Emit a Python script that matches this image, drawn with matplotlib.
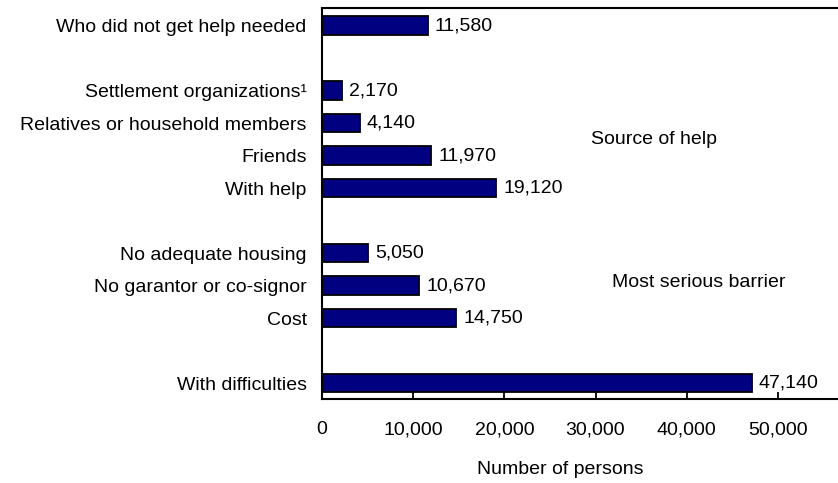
"""
Housing search difficulties: horizontal bar chart of number of persons.
"""
import matplotlib
matplotlib.use("Agg")
import matplotlib.pyplot as plt

# rows from bottom to top; None marks an empty spacer slot
labels = ["With difficulties", None, "Cost", "No garantor or co-signor",
          "No adequate housing", None, "With help", "Friends",
          "Relatives or household members", "Settlement organizations\u00b9",
          None, "Who did not get help needed"]
values = [47140, None, 14750, 10670, 5050, None, 19120, 11970, 4140, 2170,
          None, 11580]
group_notes = ["Source of help", "Most serious barrier"]
note_x = [29500, 31800]
note_y = [7.48, 3.08]
xticks = [0, 10000, 20000, 30000, 40000, 50000]

plt.rcParams["font.family"] = ["Liberation Sans", "DejaVu Sans"]
FS = 14

fig = plt.figure(figsize=(8.38, 4.83), dpi=100)
ax = fig.add_axes([322 / 838, 84 / 483, 547 / 838, 391 / 483])

pos = [i for i, v in enumerate(values) if v is not None]
vals = [values[i] for i in pos]
bars = ax.barh(pos, vals, height=0.56, color="#000080", edgecolor="black", lw=1.3)
ax.bar_label(bars, labels=[f"{v:,}" for v in vals], padding=5, fontsize=FS,
             clip_on=False)

ax.set_yticks(pos)
ax.set_yticklabels([labels[i] for i in pos], fontsize=FS)
ax.tick_params(axis="y", length=0, pad=11)

ax.set_xlim(0, 60000)
ax.set_ylim(-0.49, 11.54)
ax.set_xticks(xticks)
ax.set_xticklabels([f"{t:,}" for t in xticks], fontsize=FS)
ax.tick_params(axis="x", direction="in", length=5, width=1.3, pad=16)

for s in ("left", "top", "bottom", "right"):
    ax.spines[s].set_linewidth(1.5)

for txt, x, y in zip(group_notes, note_x, note_y):
    ax.text(x, y, txt, fontsize=FS, va="center", ha="left")

ax.set_xlabel("Number of persons", fontsize=FS)
ax.xaxis.set_label_coords(0.435, -0.158)

fig.savefig("out.png", dpi=100)
